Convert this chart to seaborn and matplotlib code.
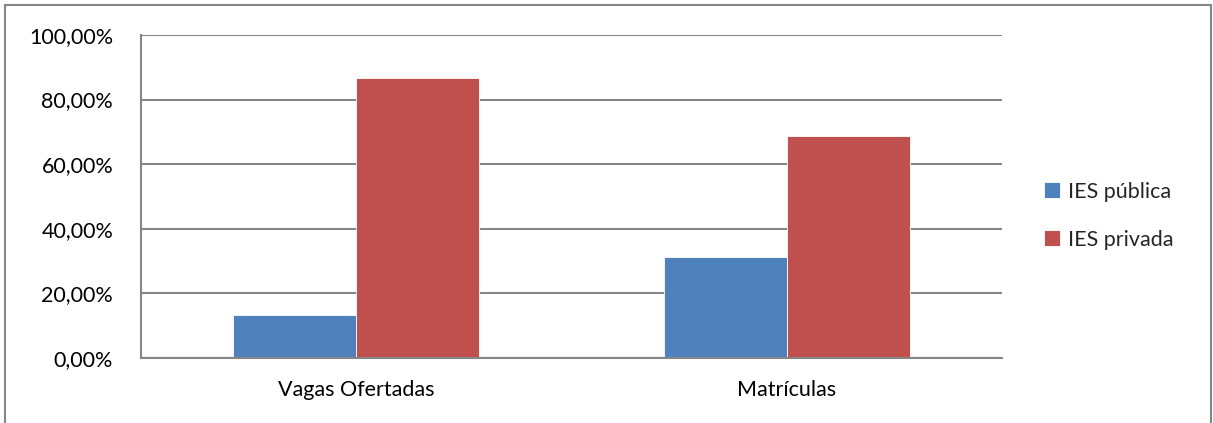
import matplotlib
matplotlib.use('Agg')

import pandas as pd
import seaborn as sns
import matplotlib.pyplot as plt
from matplotlib.patches import Rectangle
from matplotlib.ticker import FuncFormatter

# data
categories = ['Vagas Ofertadas', 'Matrículas']
series = ['IES pública', 'IES privada']
publica = [13.2, 31.3]
privada = [86.8, 68.7]
colors = ['#4F81BD', '#C0504D']

df = pd.DataFrame({
    'categoria': categories * 2,
    'tipo': [series[0]] * 2 + [series[1]] * 2,
    'valor': publica + privada,
})

sns.set_style('white')
plt.rcParams['font.family'] = ['Lato', 'DejaVu Sans']

fig = plt.figure(figsize=(12.13, 4.23), dpi=100)
ax = fig.add_axes([0.1162, 0.1537, 0.7098, 0.7636])

sns.barplot(data=df, x='categoria', y='valor', hue='tipo',
            palette=colors, width=0.572, ax=ax,
            edgecolor='white', linewidth=0.6, saturation=1)

ax.set_ylim(0, 100)
ax.set_xlim(-0.5, 1.5)
ax.set_yticks([0, 20, 40, 60, 80, 100])
ax.yaxis.set_major_formatter(FuncFormatter(lambda v, p: f'{v:.2f}%'.replace('.', ',')))
ax.grid(axis='y', color='#868686', linewidth=1.5)
ax.set_axisbelow(True)
for s in ['top', 'right']:
    ax.spines[s].set_visible(False)
for s in ['left', 'bottom']:
    ax.spines[s].set_color('#868686')
    ax.spines[s].set_linewidth(1.5)
ax.tick_params(axis='both', length=0, labelsize=15.5, colors='black')
ax.tick_params(axis='x', pad=16)
ax.tick_params(axis='y', pad=20)
ax.set_xlabel('')
ax.set_ylabel('')

ax.legend(loc='center left', bbox_to_anchor=(1.026, 0.44), frameon=False,
          fontsize=15.5, handlelength=0.75, handleheight=0.75,
          handletextpad=0.4, labelspacing=1.3)

# outer chart frame
fig.patches.append(Rectangle((5 / 1213, -0.05), 1206 / 1213, 1 - 5 / 423 + 0.05,
                             transform=fig.transFigure, fill=False,
                             edgecolor='#868686', linewidth=1.5))

fig.savefig('out.png', dpi=100)
plt.close()
